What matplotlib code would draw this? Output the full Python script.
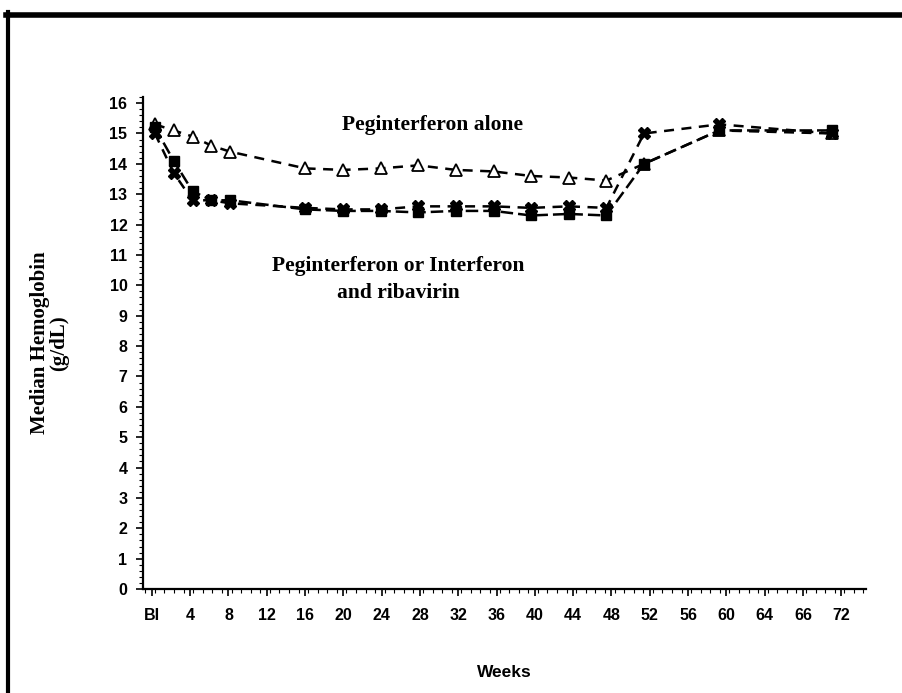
import matplotlib.pyplot as plt
from matplotlib.lines import Line2D
from matplotlib.ticker import MultipleLocator

# weeks of measurement and median hemoglobin (g/dL)
weeks = [0, 2, 4, 6, 8, 16, 20, 24, 28, 32, 36, 40, 44, 48, 52, 60, 72]
peg_alone = [15.3, 15.1, 14.9, 14.6, 14.4, 13.85, 13.8, 13.85, 13.95, 13.8,
             13.75, 13.6, 13.55, 13.45, 14.0, 15.1, 15.0]
riba_sq = [15.2, 14.1, 13.1, 12.8, 12.8, 12.5, 12.45, 12.45, 12.4, 12.45,
           12.45, 12.3, 12.35, 12.3, 14.0, 15.1, 15.1]
riba_x = [15.0, 13.7, 12.8, 12.8, 12.7, 12.55, 12.5, 12.5, 12.6, 12.6,
          12.6, 12.55, 12.6, 12.55, 15.0, 15.3, 15.0]

xtick_labels = ["BI", "4", "8", "12", "16", "20", "24", "28", "32", "36",
                "40", "44", "48", "52", "56", "60", "64", "66", "72"]
# the printed axis is slightly stretched against the plotted data
xtick_pos = [4.072 * i - 0.32 for i in range(len(xtick_labels))]

fig = plt.figure(figsize=(9.03, 6.93), dpi=100)
ax = fig.add_axes([0.158, 0.150, 0.801, 0.710])

ax.plot(weeks, peg_alone, color="black", lw=1.8, ls=(0, (4, 3)),
        marker="^", ms=9, mfc="white", mec="black", mew=1.3, zorder=3)
ax.plot(weeks, riba_sq, color="black", lw=1.8, ls=(0, (5, 2)),
        marker="s", ms=7, mfc="black", mec="black", zorder=4)
ax.plot(weeks, riba_x, color="black", lw=1.8, ls=(0, (4, 3)),
        marker="X", ms=9, mfc="black", mec="black", zorder=5)

ax.set_xlim(-1.3, 75.6)
ax.set_ylim(0, 16.2)
ax.set_xticks(xtick_pos)
ax.set_xticklabels(xtick_labels)
ax.set_yticks(range(0, 17))
ax.xaxis.set_minor_locator(MultipleLocator(1.018))
ax.yaxis.set_minor_locator(MultipleLocator(0.2))

for s in ["top", "right"]:
    ax.spines[s].set_visible(False)
ax.spines["left"].set_bounds(0, 16.2)
ax.spines["left"].set_linewidth(1.6)
ax.spines["bottom"].set_linewidth(1.6)

ax.tick_params(axis="both", which="major", length=5, width=1.2,
               labelsize=11.5, pad=6)
ax.tick_params(axis="x", which="major", pad=9)
ax.tick_params(axis="both", which="minor", length=3, width=0.8)
for lab in ax.get_xticklabels() + ax.get_yticklabels():
    lab.set_family("Liberation Sans")
    lab.set_fontweight("bold")

ax.set_xlabel("Weeks", family="Liberation Sans", fontweight="bold",
              fontsize=12.5, labelpad=30)
ax.set_ylabel("Median Hemoglobin\n(g/dL)", family="Liberation Serif",
              fontweight="bold", fontsize=15, linespacing=0.9)
ax.yaxis.set_label_coords(-0.102, 0.5)

ax.text(29.5, 15.28, "Peginterferon alone", family="Liberation Serif",
        fontweight="bold", fontsize=15.5, ha="center", va="center")
ax.text(25.9, 10.2, "Peginterferon or Interferon\nand ribavirin",
        family="Liberation Serif", fontweight="bold", fontsize=15.5,
        ha="center", va="center", linespacing=1.45)

# black frame of the scanned page (top and left edges)
fig.add_artist(Line2D([0.007, 1.0], [0.979, 0.979], color="black", lw=4,
                      transform=fig.transFigure))
fig.add_artist(Line2D([0.009, 0.009], [0.0, 0.982], color="black", lw=3,
                      transform=fig.transFigure))

fig.savefig("out.png", dpi=100)
